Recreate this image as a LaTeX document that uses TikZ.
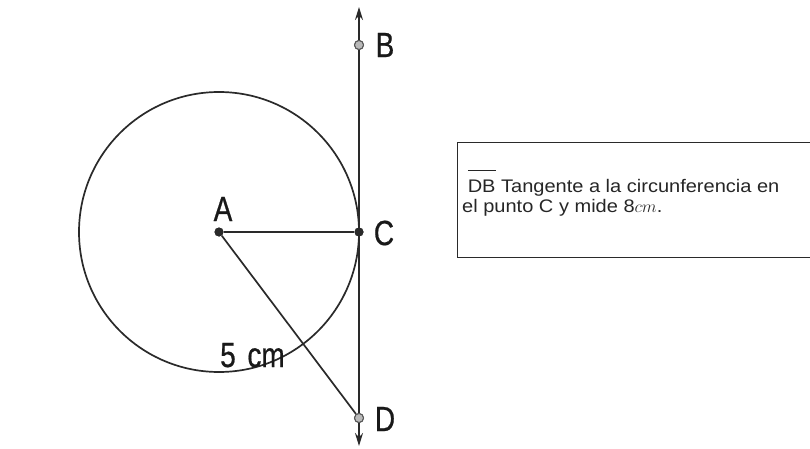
\documentclass[tikz,border=0pt]{standalone}
\usepackage{fontspec}
\setmainfont{Liberation Sans}
\newfontfamily\labfont[FakeStretch=0.8,FakeBold=0.6]{Liberation Sans}
\newfontfamily\boxfont[FakeStretch=1.1]{Liberation Sans}
\usetikzlibrary{arrows.meta}
\definecolor{ink}{HTML}{2A2A2A}
\tikzset{
  geo/.style={draw=ink, line width=1.7pt},
  solidpt/.style={circle, fill=ink, inner sep=0pt, minimum size=9pt},
  hollowpt/.style={circle, fill=gray!55, draw=ink!80, line width=1pt, inner sep=0pt, minimum size=9pt},
  lab/.style={font=\labfont\fontsize{35}{35}\selectfont, text=black!90, inner sep=0pt},
  boxtxt/.style={font=\boxfont\fontsize{18.2}{20}\selectfont, text=black!85, inner sep=0pt, anchor=base west},
  tip/.style={-{Stealth[length=13pt,width=8pt]}}
}
\begin{document}
\begin{tikzpicture}[x=1pt,y=-1pt]
\useasboundingbox (0,0) rectangle (810,449);
% circle
\node[circle, geo, inner sep=0pt, minimum size=280pt] (circ) at (219,232) {};
% points
\node[solidpt] (A) at (219,232) {};
\node[solidpt] (C) at (359,232) {};
\node[hollowpt] (B) at (359,45) {};
\node[hollowpt] (D) at (359,418) {};
\coordinate (top) at (359,7);
\coordinate (bot) at (359,446);
% line through B, C, D
\draw[geo, tip] (B.center) -- (top);
\draw[geo, tip] (D.center) -- (bot);
\draw[geo] (B) -- (C) -- (D);
% segments
\draw[geo] (A) -- (C);
\draw[geo] (A) -- (D);
% redraw points on top
\node[solidpt] at (A) {};
\node[solidpt] at (C) {};
\node[hollowpt] at (B) {};
\node[hollowpt] at (D) {};
% labels
\node[lab] (lA) at (223,209) {A};
\node[lab] (lB) at (385,45) {B};
\node[lab] (lC) at (384,233) {C};
\node[lab] (lD) at (385,419) {D};
\node[lab, anchor=base west] (l5) at (220,367) {5\,\,cm};
% text box
\node[draw=ink, line width=1.4pt, minimum width=360pt, minimum height=115pt, anchor=north west, inner sep=0pt] (box) at (457,142) {};
\node[boxtxt] (t1) at (462,192) {\ $\overline{\rule{0pt}{20pt}\mbox{DB}}$ Tangente a la circunferencia en};
\node[boxtxt] (t2) at (462,212) {el punto C y mide 8$cm$.};
\end{tikzpicture}
\end{document}
